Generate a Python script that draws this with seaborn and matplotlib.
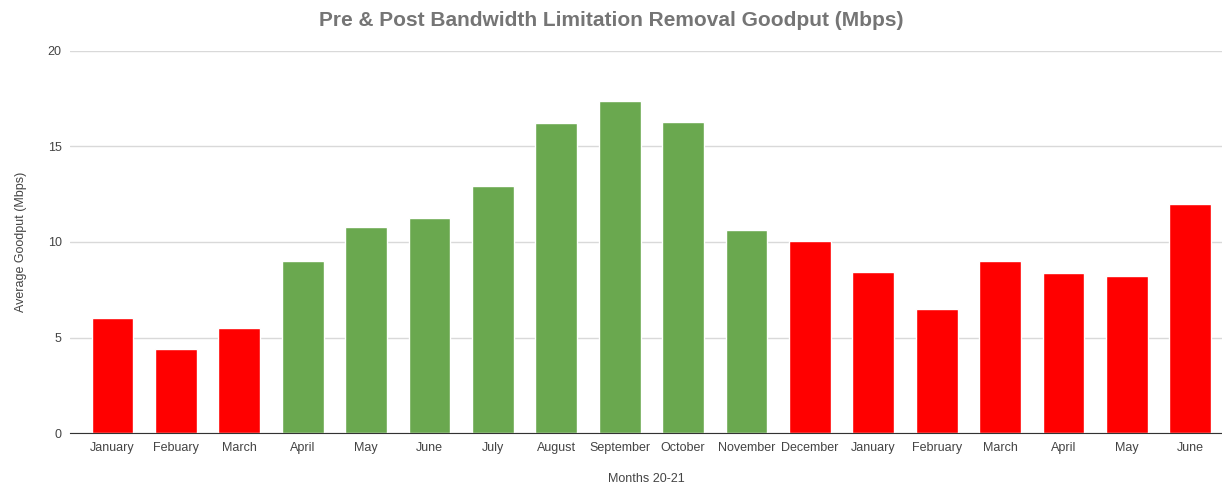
import pandas as pd
import numpy as np
import matplotlib.pyplot as plt
import seaborn as sns

months = ['January', 'Febuary', 'March', 'April', 'May', 'June', 'July', 'August',
          'September', 'October', 'November', 'December', 'January', 'February',
          'March', 'April', 'May', 'June']
goodput = [6.0, 4.4, 5.5, 9.0, 10.8, 11.25, 12.95, 16.2, 17.4, 16.3, 10.65,
           10.05, 8.43, 6.5, 9.0, 8.38, 8.22, 11.97]
period = ['pre'] * 3 + ['post'] * 8 + ['pre'] * 7

df = pd.DataFrame({'slot': [str(i) for i in range(len(months))],
                   'goodput': goodput, 'period': period})

sns.set_style('white')
plt.rcParams['font.family'] = ['Liberation Sans', 'DejaVu Sans']

fig = plt.figure(figsize=(12.22, 4.84), dpi=100)
ax = fig.add_axes([0.0573, 0.105, 0.9427, 0.79])

sns.barplot(data=df, x='slot', y='goodput', hue='period',
            palette={'pre': '#ff0000', 'post': '#6aa84f'},
            width=0.66, legend=False, ax=ax, saturation=1)

ax.set_ylim(0, 20)
ax.set_yticks([0, 5, 10, 15, 20])
ax.set_xlim(-0.67, len(months) - 0.5)
ax.set_xticks(range(len(months)))
ax.set_xticklabels(months)
ax.tick_params(axis='both', length=0, labelsize=9, colors='#444444', pad=6)
ax.yaxis.grid(True, color='#d9d9d9', linewidth=1)
ax.set_axisbelow(True)
for s in ['top', 'right', 'left']:
    ax.spines[s].set_visible(False)
ax.spines['bottom'].set_color('#333333')

ax.set_xlabel('Months 20-21', fontsize=9, color='#444444', labelpad=14)
ax.set_ylabel('Average Goodput (Mbps)', fontsize=9, color='#444444', labelpad=15)
fig.suptitle('Pre & Post Bandwidth Limitation Removal Goodput (Mbps)',
             fontsize=15, fontweight='bold', color='#757575', y=0.978)

fig.savefig('out.png', dpi=100)
